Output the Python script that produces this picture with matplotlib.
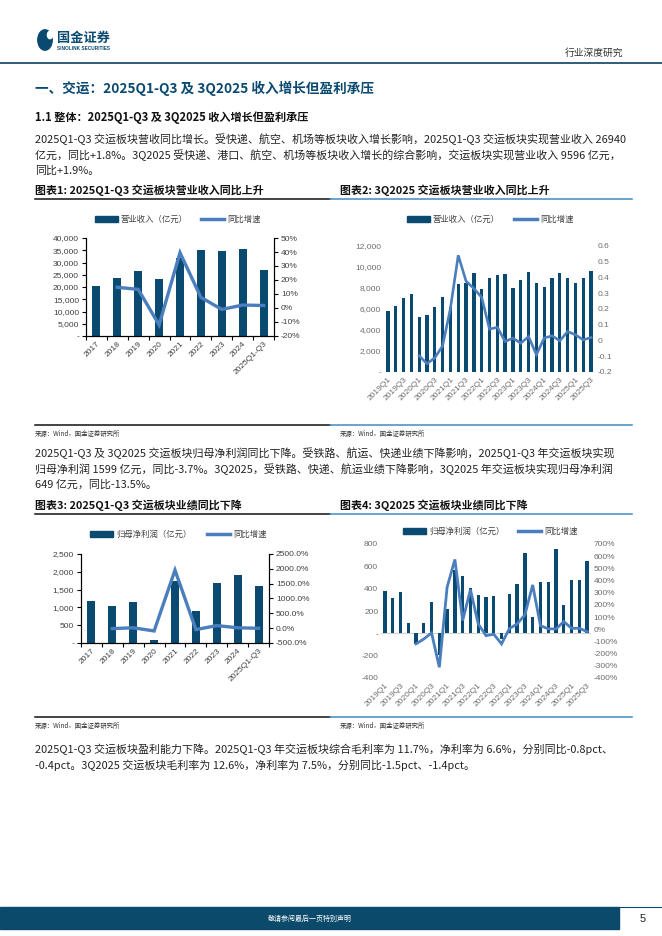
import numpy as np
import matplotlib
matplotlib.use("Agg")
import matplotlib.pyplot as plt
from matplotlib.patches import Rectangle, Circle, Patch
from matplotlib.lines import Line2D
from matplotlib.ticker import FuncFormatter, FixedLocator

W, H = 662, 936
CJK = ['Noto Sans CJK SC', 'DejaVu Sans']
NUM = ['Liberation Sans', 'Noto Sans CJK SC']
NAVY = '#0b4a70'
LINE = '#4a7ebd'
BLUE_RULE = '#3d8cc4'

# ---- 数据 ----
years = ['2017', '2018', '2019', '2020', '2021', '2022', '2023', '2024', '2025Q1-Q3']
rev_year = [20400, 23670, 26650, 23270, 31960, 35100, 34700, 35500, 26940]
rev_year_yoy = [None, 14.8, 13.3, -12.1, 39.5, 7.6, -1.0, 2.1, 1.8]

quarters = [f'{y}Q{q}' for y in range(2019, 2026) for q in range(1, 5)][:27]
rev_q = [5810, 6280, 7040, 7420, 5240, 5430, 6190, 7140, 6220, 8370, 8490, 9410,
         7890, 8940, 9220, 9380, 7990, 8750, 9500, 8460, 8080, 8970, 9410, 8940,
         8460, 8940, 9596]
rev_q_yoy = [None, None, None, None, -0.097, -0.147, -0.11, -0.034, 0.204, 0.541,
             0.377, 0.33, 0.274, 0.072, 0.084, -0.006, 0.015, -0.017, 0.025, -0.09,
             0.015, 0.03, -0.002, 0.057, 0.036, 0.004, 0.019]

np_year = [1189, 1030, 1161, 75, 1751, 908, 1695, 1919, 1599]
np_year_yoy = [None, -13.4, 12.7, -93.5, 1955.0, -48.1, 86.7, 13.2, -3.7]

np_q = [376, 313, 367, 93, -93, 90, 278, -195, 221, 570, 510, 403,
        340, 322, 331, -50, 349, 445, 716, 143, 456, 456, 755, 251,
        475, 475, 649]
np_q_yoy = [None, None, None, None, -120, -80, -30, -312, 345, 573, 71, 326,
            44, -52, -41, -120, 5, 44, 118, 364, 30, 3, 3, 63, 8, 8, -19]

fig = plt.figure(figsize=(W / 100, H / 100), dpi=100)


def ft(x, y, s, **kw):
    kw.setdefault('family', CJK)
    kw.setdefault('va', 'center')
    fig.text(x / W, 1 - y / H, s, **kw)


def hline(x0, x1, y, **kw):
    fig.add_artist(Line2D([x0 / W, x1 / W], [1 - y / H, 1 - y / H],
                          transform=fig.transFigure, **kw))


def axrect(l, t, r, b):
    return fig.add_axes([l / W, 1 - b / H, (r - l) / W, (b - t) / H])


def combo(ax, labels, bars, yoy, ylim, yticks, yfmt, rlim, rticks, rfmt,
          bar_label, leg_xy, step=1, boxed=True, lw=2.2, bw=0.38, tc='#404040',
          colsp=2.0):
    x = np.arange(len(labels))
    ax.bar(x, bars, width=bw, color=NAVY, zorder=2)
    ax2 = ax.twinx()
    yy = np.array([np.nan if v is None else v for v in yoy], float)
    ax2.plot(x, yy, color=LINE, lw=lw, solid_joinstyle='miter')
    ax.set_xlim(-0.5, len(labels) - 0.5)
    ax.set_ylim(*ylim)
    ax2.set_ylim(*rlim)
    ax.yaxis.set_major_locator(FixedLocator(yticks))
    ax2.yaxis.set_major_locator(FixedLocator(rticks))
    ax.yaxis.set_major_formatter(FuncFormatter(yfmt))
    ax2.yaxis.set_major_formatter(FuncFormatter(rfmt))
    ax.set_xticks(x[::step])
    ax.set_xticklabels(labels[::step], rotation=45, ha='right',
                       rotation_mode='anchor', family=NUM, fontsize=6, color=tc)
    for a in (ax, ax2):
        for lab in a.get_yticklabels():
            lab.set_family(NUM)
        a.tick_params(axis='y', labelsize=6, labelcolor=tc, pad=2)
        a.patch.set_visible(False)
    ax.tick_params(axis='x', length=0, pad=3)
    if boxed:
        for a in (ax, ax2):
            a.spines['top'].set_visible(False)
            for s in ('left', 'right', 'bottom'):
                a.spines[s].set_linewidth(0.8)
        ax.set_xticks(np.arange(len(labels) + 1) - 0.5, minor=True)
        ax.tick_params(axis='x', which='minor', length=3, width=0.8)
        ax.tick_params(axis='y', length=3, width=0.8)
        ax2.tick_params(axis='y', length=3, width=0.8)
    else:
        for a in (ax, ax2):
            for s in a.spines.values():
                s.set_visible(False)
            a.tick_params(axis='y', length=0)
    handles = [Patch(color=NAVY), Line2D([], [], color=LINE, lw=2.5)]
    ax.legend(handles, [bar_label, '同比增速'], ncol=2, frameon=False,
              loc='center left', bbox_to_anchor=(leg_xy[0] / W, 1 - leg_xy[1] / H),
              bbox_transform=fig.transFigure, prop={'family': CJK, 'size': 6},
              handlelength=2.7, handleheight=0.75, handletextpad=0.4,
              columnspacing=colsp, labelcolor='#404040', borderpad=0, borderaxespad=0)
    return ax2


thou = lambda v, p: '-' if v == 0 else f'{v:,.0f}'
plain = lambda v, p: '-' if v == 0 else f'{v:.0f}'

# ---- 页眉 ----
fig.add_artist(Circle((45 / W, 1 - 40 / H), 7.2 / W, transform=fig.transFigure,
                      color=NAVY))
fig.add_artist(Circle((50 / W, 1 - 35 / H), 2.6 / W, transform=fig.transFigure,
                      color='white'))
ft(57, 38, '国金证券', fontsize=9.5, weight='bold', color=NAVY)
ft(57, 49, 'SINOLINK SECURITIES', fontsize=3.4, weight='bold', color=NAVY,
   family=NUM)
ft(565, 53, '行业深度研究', fontsize=7, color='#333333')
hline(0, W, 62.5, color='#1f4f70', lw=1.3)

ft(35, 88, '一、交运：2025Q1-Q3 及 3Q2025 收入增长但盈利承压', fontsize=9.8,
   weight='bold', color=NAVY)
ft(35, 118, '1.1 整体：2025Q1-Q3 及 3Q2025 收入增长但盈利承压', fontsize=8,
   weight='bold', color='#111111')

para1 = ['2025Q1-Q3 交运板块营收同比增长。受快递、航空、机场等板块收入增长影响，2025Q1-Q3 交运板块实现营业收入 26940',
         '亿元，同比+1.8%。3Q2025 受快递、港口、航空、机场等板块收入增长的综合影响，交运板块实现营业收入 9596 亿元，',
         '同比+1.9%。']
para2 = ['2025Q1-Q3 及 3Q2025 交运板块归母净利润同比下降。受铁路、航运、快递业绩下降影响，2025Q1-Q3 年交运板块实现',
         '归母净利润 1599 亿元，同比-3.7%。3Q2025，受铁路、快递、航运业绩下降影响，3Q2025 年交运板块实现归母净利润',
         '649 亿元，同比-13.5%。']
para3 = ['2025Q1-Q3 交运板块盈利能力下降。2025Q1-Q3 年交运板块综合毛利率为 11.7%，净利率为 6.6%，分别同比-0.8pct、',
         '-0.4pct。3Q2025 交运板块毛利率为 12.6%，净利率为 7.5%，分别同比-1.5pct、-1.4pct。']
for lines, y0 in ((para1, 139), (para2, 453), (para3, 749)):
    for i, s in enumerate(lines):
        ft(35, y0 + 16 * i, s, fontsize=7.9, color='#222222')

# 图表标题与分隔线
for y, t1, t2 in ((190, '图表1: 2025Q1-Q3 交运板块营业收入同比上升', '图表2: 3Q2025 交运板块营业收入同比上升'),
                  (505, '图表3: 2025Q1-Q3 交运板块业绩同比下降', '图表4: 3Q2025 交运板块业绩同比下降')):
    ft(35, y, t1, fontsize=7.9, weight='bold', color='#111111')
    ft(340, y, t2, fontsize=7.9, weight='bold', color='#111111')
    hline(35, 330, y + 8.5, color='#111111', lw=1.1)
    hline(330, 632, y + 8.5, color=BLUE_RULE, lw=1.1)

for y in (425, 717):
    hline(35, 330, y, color='#111111', lw=1.1)
    hline(330, 632, y, color=BLUE_RULE, lw=1.1)
    ft(35, y + 9, '来源：Wind，国金证券研究所', fontsize=4.6, color='#333333')
    ft(340, y + 9, '来源：Wind，国金证券研究所', fontsize=4.6, color='#333333')

# ---- 图表1 ----
ax = axrect(86, 238, 274, 336)
combo(ax, years, rev_year, rev_year_yoy, (0, 40000), range(0, 40001, 5000), thou,
      (-20, 50), range(-20, 51, 10), lambda v, p: f'{v:.0f}%',
      '营业收入（亿元）', (95, 219), lw=2.4, colsp=1.6)

# ---- 图表2 ----
ax = axrect(384, 246, 595, 372)
combo(ax, quarters, rev_q, rev_q_yoy, (0, 12000), range(0, 12001, 2000), thou,
      (-0.2, 0.6), np.round(np.arange(-0.2, 0.61, 0.1), 1),
      lambda v, p: '0' if abs(v) < 1e-9 else f'{v:.1f}',
      '营业收入（亿元）', (407, 219), step=2, boxed=False, lw=1.9, bw=0.42,
      tc='#6e6e6e', colsp=1.7)

# ---- 图表3 ----
ax = axrect(81, 554, 269, 643)
combo(ax, years, np_year, np_year_yoy, (0, 2500), range(0, 2501, 500), thou,
      (-500, 2500), range(-500, 2501, 500), lambda v, p: f'{v:.1f}%',
      '归母净利润（亿元）', (90, 534), lw=2.4, colsp=1.9)

# ---- 图表4 ----
ax = axrect(381, 544, 591, 678)
ax.axhline(0, color='#c8c8c8', lw=0.6, zorder=1)
combo(ax, quarters, np_q, np_q_yoy, (-400, 800), range(-400, 801, 200), plain,
      (-400, 700), range(-400, 701, 100), lambda v, p: f'{v:.0f}%',
      '归母净利润（亿元）', (403, 531), step=2, boxed=False, lw=2.0, bw=0.42,
      tc='#6e6e6e', colsp=1.7)

# ---- 页脚 ----
fig.add_artist(Rectangle((0, 1 - 929 / H), 619 / W, 22 / H, transform=fig.transFigure,
                         color='#0b4a6b'))
hline(619, W, 907, color='#0b4a6b', lw=0.8)
ft(310, 918.5, '敬请参阅最后一页特别声明', fontsize=5, color='white', ha='center')
ft(643, 918.5, '5', fontsize=8, color='#222222', ha='center', family=NUM)

fig.savefig('out.png', dpi=100)
